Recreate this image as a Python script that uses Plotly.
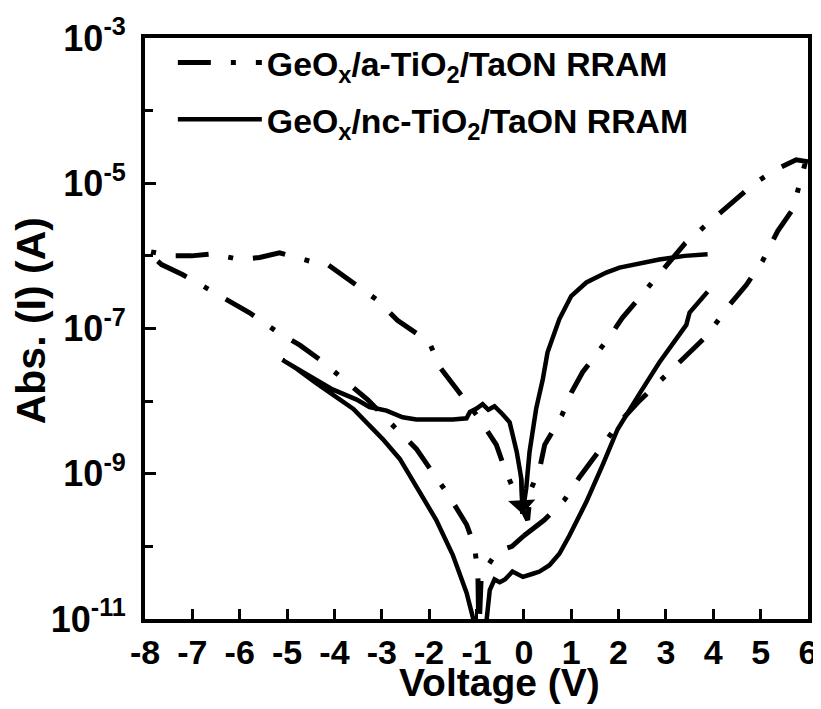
import math
import plotly.graph_objects as go

# ---- data: GeOx/a-TiO2/TaON (dash-dot), one closed sweep loop ----
a_v = [0.0, 0.43, 0.86, 1.17, 1.64, 1.98, 2.4, 3.0, 3.41, 3.86, 4.34, 4.7, 5.04, 5.36, 5.68, 5.85, 5.95,
       5.75, 5.33, 4.87, 4.45, 3.86, 3.41, 2.97, 2.44, 2.08, 1.77, 1.24, 1.0, 0.8, 0.44, 0.33, 0.14, 0.08,
       -0.1, -0.41, -0.58, -0.93, -1.36, -1.75, -2.0, -2.67, -3.11, -3.68, -4.14, -4.53, -5.16, -5.58,
       -6.0, -6.57, -7.02, -7.44, -7.97,
       -7.65, -7.2, -6.6, -6.2, -5.8, -5.2, -4.73, -4.3, -3.72, -3.3, -2.83, -2.27, -1.93, -1.6, -1.21,
       -1.04, -0.97, -0.95, -0.9, -0.56, -0.25, 0.0]
a_i = [1.4e-10, 2.3e-10, 4.4e-10, 8.9e-10, 2.3e-9, 4.8e-9, 9.5e-9, 2.3e-8, 4.3e-8, 7.9e-8, 2.1e-7, 4.0e-7, 8.5e-7, 2.2e-6, 4.4e-6, 1.2e-5, 2.0e-5,
       2.1e-5, 1.55e-5, 1.0e-5, 5.9e-6, 2.7e-6, 1.5e-6, 6.9e-7, 2.8e-7, 1.4e-7, 7.1e-8, 2.5e-8, 1.3e-8, 6.3e-9, 2.5e-9, 1.15e-9, 5.9e-10, 2.3e-10,
       4.0e-10, 1.2e-9, 2.5e-9, 5.6e-9, 1.3e-8, 2.8e-8, 6.5e-8, 1.3e-7, 2.5e-7, 4.7e-7, 7.6e-7, 8.5e-7, 1.1e-6, 9.5e-7,
       8.9e-7, 1.07e-6, 1.0e-6, 1.0e-6, 1.17e-6,
       7.6e-7, 5.5e-7, 3.3e-7, 2.3e-7, 1.66e-7, 8.9e-8, 5.9e-8, 3.7e-8, 1.8e-8, 1.05e-8, 5.1e-9, 2.2e-9, 1.05e-9, 5.2e-10, 2.0e-10,
       1.0e-10, 4.0e-11, 6.0e-12, 4.0e-11, 8.5e-11, 1.0e-10, 1.4e-10]

# ---- data: GeOx/nc-TiO2/TaON (solid) ----
n_v = [-0.03, 0.05, 0.12, 0.26, 0.4, 0.5, 0.75, 1.0, 1.32, 1.74, 2.02, 2.5, 2.86, 3.4, 3.88,
       None,
       3.88, 3.5, 3.43, 2.86, 2.44, 1.98, 1.66, 1.32, 0.96, 0.75, 0.54, 0.33, 0.19, -0.02, -0.24, -0.4,
       -0.51, -0.62, -0.72, -0.82, -0.95,
       -1.08, -1.21, -1.5, -1.85, -2.2, -2.62, -2.98, -3.6, -4.4, -4.8, -5.1,
       -4.6, -4.04, -3.53, -3.26, -2.9, -2.56, -2.27, -1.85, -1.5, -1.21, -1.14, -1.0, -0.87, -0.75,
       -0.62, -0.45, -0.3, -0.15, -0.05, -0.03]
n_i = [2.8e-10, 6.3e-10, 2.0e-9, 7.9e-9, 2.0e-8, 4.7e-8, 1.35e-7, 2.8e-7, 4.3e-7, 5.9e-7, 6.9e-7, 8.1e-7, 8.9e-7, 1.0e-6, 1.05e-6,
       None,
       3.2e-7, 1.66e-7, 1.12e-7, 3.4e-8, 1.26e-8, 4.1e-9, 1.3e-9, 4.1e-10, 1.4e-10, 7.9e-11, 5.5e-11, 4.5e-11, 4.2e-11, 3.8e-11, 4.5e-11, 3.5e-11,
       3.2e-11, 3.5e-11, 2.5e-11, 6.0e-12, 5.0e-12,
       1.1e-11, 2.3e-11, 7.6e-11, 2.3e-10, 5.6e-10, 1.6e-9, 3.0e-9, 7.8e-9, 1.8e-8, 2.8e-8, 3.7e-8,
       2.4e-8, 1.45e-8, 1.05e-8, 8.3e-9, 7.4e-9, 6.0e-9, 5.6e-9, 5.5e-9, 5.6e-9, 5.8e-9, 7.1e-9, 7.9e-9, 9.1e-9, 7.6e-9,
       8.5e-9, 6.6e-9, 5.1e-9, 2.0e-9, 8.3e-10, 2.8e-10]

x_ticks = [-8, -7, -6, -5, -4, -3, -2, -1, 0, 1, 2, 3, 4, 5, 6]
x_ticktext = ["-8", "-7", "-6", "-5", "-4", "-3", "-2", "-1", "0", "1", "2", "3", "4", "5", "6"]
y_tickvals = [1e-11, 1e-9, 1e-7, 1e-5, 1e-3]
y_ticktext = ["10<sup>-11</sup>", "10<sup>-9</sup>", "10<sup>-7</sup>", "10<sup>-5</sup>", "10<sup>-3</sup>"]
y_minor = [1e-10, 1e-8, 1e-6, 1e-4]

FONT = "Liberation Sans, Arial, sans-serif"

fig = go.Figure()
fig.add_trace(go.Scatter(
    x=a_v, y=a_i, mode="lines", legendgroup="a",
    name="GeO<sub>x</sub>/a-TiO<sub>2</sub>/TaON RRAM",
    line=dict(color="black", width=5, dash="33px,20px,5px,20px"),
))
fig.add_trace(go.Scatter(
    x=n_v, y=n_i, mode="lines", legendgroup="n", connectgaps=False,
    name="GeO<sub>x</sub>/nc-TiO<sub>2</sub>/TaON RRAM",
    line=dict(color="black", width=4.5),
))

# the page body adds a small offset, so the margins are shifted to compensate
fig.update_layout(
    width=821, height=709,
    margin=dict(l=137, r=21, t=30, b=98, autoexpand=False),
    paper_bgcolor="white", plot_bgcolor="white",
    font=dict(family=FONT, color="black", size=30, weight="bold"),
    showlegend=True,
    legend=dict(
        x=0.042, y=1.007, xanchor="left", yanchor="top",
        bgcolor="rgba(0,0,0,0)", borderwidth=0,
        font=dict(family=FONT, size=33.8, color="black", weight="bold"),
        itemwidth=84, tracegroupgap=10,
    ),
    annotations=[
        dict(text="Voltage (V)", xref="paper", yref="paper", x=0.535, y=-0.11,
             xanchor="center", yanchor="middle", showarrow=False,
             font=dict(family=FONT, size=39, color="black", weight="bold")),
        dict(text="Abs. (I) (A)", xref="paper", yref="paper", x=-0.172, y=0.514,
             xanchor="center", yanchor="middle", showarrow=False, textangle=-90,
             font=dict(family=FONT, size=41, color="black", weight="bold")),
        dict(x=n_v[0], y=math.log10(n_i[0]), xref="x", yref="y", text="",
             showarrow=True, arrowhead=1, arrowsize=1.3, arrowwidth=3.5,
             arrowcolor="black", ax=-2, ay=-40, standoff=0),
    ],
)

fig.update_xaxes(
    range=[-8, 6], tickmode="array", tickvals=x_ticks, ticktext=x_ticktext,
    ticks="inside", ticklen=10, tickwidth=3, tickcolor="black",
    showline=True, linewidth=4, linecolor="black", mirror=True,
    showgrid=False, zeroline=False, automargin=False,
    tickfont=dict(family=FONT, size=34, color="black", weight="bold"),
    ticklabelstandoff=0,
)
fig.update_yaxes(
    type="log", range=[-11, -3], tickmode="array",
    tickvals=y_tickvals, ticktext=y_ticktext,
    ticks="inside", ticklen=11, tickwidth=3, tickcolor="black",
    minor=dict(tickvals=y_minor, ticks="inside", ticklen=8, tickwidth=3, tickcolor="black"),
    showline=True, linewidth=4, linecolor="black", mirror=True,
    showgrid=False, zeroline=False, automargin=False,
    tickfont=dict(family=FONT, size=36, color="black", weight="bold"),
    ticklabelstandoff=8,
)

fig.write_html("out.html")
